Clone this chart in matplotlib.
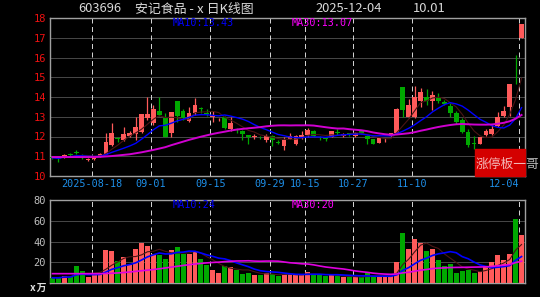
import numpy as np
import pandas as pd
import matplotlib
matplotlib.use("Agg")
import matplotlib.pyplot as plt
from matplotlib.patches import Rectangle

plt.rcParams["font.family"] = ["Noto Sans CJK SC", "DejaVu Sans"]

# trading days shown (national day holiday 10-01..10-08 closed)
holiday = pd.date_range("2025-10-01", "2025-10-08")
dates = [d for d in pd.bdate_range("2025-08-07", "2025-12-04") if d not in holiday]
tick_dates = ["2025-08-18", "2025-09-01", "2025-09-15", "2025-09-29",
              "2025-10-15", "2025-10-27", "2025-11-10", "2025-12-04"]

opens = [10.95, 10.90, 10.95, 11.10, 11.20, 11.05, 10.80, 10.85, 10.98, 11.12,
         11.55, 11.90, 11.80, 12.05, 12.15, 12.22, 12.95, 12.70, 13.28, 12.95,
         12.20, 13.80, 13.30, 12.80, 13.17, 13.42, 13.17, 13.00, 12.87, 13.00,
         12.38, 12.35, 12.30, 12.08, 11.98, 11.97, 11.80, 12.05, 11.70, 11.54,
         11.88, 11.63, 12.00, 12.08, 12.28, 11.93, 11.90, 12.00, 12.22, 12.05,
         12.15, 12.05, 12.30, 12.00, 11.85, 11.68, 11.85, 12.05, 12.20, 14.51,
         13.00, 12.97, 13.81, 14.00, 13.81, 13.93, 13.76, 13.52, 13.19, 12.85,
         12.21, 11.65, 11.63, 12.08, 12.13, 12.55, 13.02, 13.47, 16.12, 17.00]
highs = [11.00, 10.95, 11.10, 11.15, 11.30, 11.10, 10.92, 10.95, 11.15, 12.20,
         12.67, 12.00, 12.47, 12.30, 12.97, 13.15, 14.00, 13.60, 14.00, 13.20,
         13.25, 13.82, 13.40, 13.50, 13.95, 13.50, 13.40, 13.30, 12.95, 13.05,
         12.97, 12.45, 12.33, 12.10, 12.12, 12.05, 12.15, 12.10, 11.80, 12.00,
         12.18, 12.10, 12.30, 12.45, 12.35, 12.05, 11.95, 12.30, 12.40, 12.20,
         12.20, 12.25, 12.35, 12.10, 11.88, 11.95, 11.90, 12.20, 13.42, 14.51,
         13.90, 14.55, 14.48, 14.40, 14.30, 14.20, 13.85, 13.70, 13.30, 12.95,
         12.40, 12.05, 12.00, 12.40, 12.60, 13.22, 13.56, 14.65, 16.12, 17.72]
lows = [10.85, 10.72, 10.93, 11.00, 11.10, 10.85, 10.78, 10.82, 10.95, 11.10,
        11.50, 11.72, 11.75, 12.00, 11.80, 12.20, 12.85, 12.60, 13.05, 11.98,
        12.00, 12.75, 12.85, 12.75, 13.10, 13.20, 13.05, 12.75, 12.80, 12.38,
        12.30, 12.20, 11.83, 11.63, 11.85, 11.88, 11.72, 11.50, 11.60, 11.33,
        11.85, 11.55, 11.85, 12.00, 11.95, 11.80, 11.75, 11.95, 12.10, 12.00,
        12.05, 12.00, 12.15, 11.63, 11.60, 11.65, 11.70, 12.00, 12.20, 12.97,
        12.95, 12.94, 13.47, 13.60, 13.36, 13.70, 13.60, 12.97, 12.63, 12.20,
        11.46, 11.38, 11.60, 12.05, 12.10, 12.50, 12.98, 13.05, 14.65, 17.00]
closes = [10.92, 10.87, 11.07, 11.07, 11.18, 11.02, 10.85, 10.92, 11.12, 11.72,
          12.18, 11.88, 12.13, 12.20, 12.50, 13.14, 13.15, 13.40, 13.10, 12.00,
          13.22, 13.05, 12.95, 13.20, 13.60, 13.38, 13.12, 13.05, 12.90, 12.42,
          12.67, 12.32, 12.13, 12.00, 12.00, 11.95, 12.05, 11.80, 11.68, 11.80,
          12.00, 12.05, 12.10, 12.33, 12.05, 11.90, 11.88, 12.27, 12.20, 12.12,
          12.13, 12.20, 12.18, 11.85, 11.63, 11.90, 11.88, 12.18, 13.39, 13.36,
          13.60, 13.98, 14.26, 13.81, 14.10, 13.81, 13.64, 13.19, 12.75, 12.25,
          11.58, 11.63, 11.96, 12.30, 12.38, 12.97, 13.30, 14.65, 16.11, 17.72]
# volume in 万手
volumes = [5.0, 5.0, 7.0, 6.0, 16.5, 11.5, 5.6, 7.8, 9.7, 32.0,
           31.0, 21.0, 25.0, 17.5, 33.0, 39.0, 36.0, 27.5, 27.0, 23.0,
           32.0, 35.0, 27.5, 27.5, 31.0, 23.0, 17.5, 13.0, 10.0, 16.0,
           15.0, 13.0, 9.0, 10.0, 7.4, 7.4, 10.0, 8.6, 6.4, 9.0,
           8.3, 7.7, 7.7, 11.0, 8.3, 7.4, 6.4, 7.7, 6.4, 5.8,
           5.4, 5.4, 5.4, 10.0, 6.4, 6.7, 6.7, 6.7, 20.5, 48.5,
           32.5, 42.0, 39.0, 30.5, 32.5, 22.4, 16.0, 18.3, 10.1, 11.1,
           12.1, 10.1, 11.2, 16.0, 19.8, 27.0, 22.4, 27.8, 61.7, 46.7]

# MA30 for the first 29 days (window starts before the view)
ma30_close_head = [10.96, 10.96, 10.96, 10.96, 10.96, 10.96, 10.96, 10.96, 10.97, 10.99,
                   11.01, 11.04, 11.07, 11.10, 11.15, 11.20, 11.26, 11.32, 11.39, 11.46,
                   11.56, 11.65, 11.74, 11.83, 11.91, 11.99, 12.06, 12.13, 12.19]
ma30_vol_head = [9.0, 9.0, 9.0, 9.0, 9.0, 9.0, 9.0, 9.0, 9.0, 9.2,
                 9.4, 9.7, 10.1, 10.6, 11.2, 11.8, 12.4, 13.0, 13.7, 14.5,
                 15.3, 16.1, 16.9, 17.6, 18.3, 18.9, 19.4, 19.8, 20.1]

RED = "#ff5a5a"
GREEN = "#00a800"
BG = "black"
FRAME = "#a0a0a0"
MONO = "DejaVu Sans Mono"


def moving_avgs(values, head):
    s = pd.Series(values, dtype=float)
    ma5 = s.rolling(5, min_periods=1).mean()
    ma10 = s.rolling(10, min_periods=1).mean()
    ma30 = s.rolling(30).mean()
    ma30.iloc[:len(head)] = head
    return ma5, ma10, ma30


def style_axes(ax):
    ax.set_facecolor(BG)
    for sp in ax.spines.values():
        sp.set_color(FRAME)
        sp.set_linewidth(1.0)
    ax.tick_params(axis="both", length=0)
    ax.set_xticks([])


n = len(closes)
xs = np.arange(n) + 0.42
o = np.array(opens)
c = np.array(closes)
up = c >= o
colors = np.where(up, RED, GREEN)
tick_idx = [dates.index(pd.Timestamp(d)) for d in tick_dates]

c_ma5, c_ma10, c_ma30 = moving_avgs(closes, ma30_close_head)
v_ma5, v_ma10, v_ma30 = moving_avgs(volumes, ma30_vol_head)

fig = plt.figure(figsize=(5.4, 2.97), dpi=100, facecolor=BG)
ax_p = fig.add_axes([50 / 540, 1 - 176 / 297, 475 / 540, 158 / 297])
ax_v = fig.add_axes([50 / 540, 1 - 283 / 297, 475 / 540, 83 / 297])

# price panel
style_axes(ax_p)
ax_p.set_xlim(0, n)
ax_p.set_ylim(10, 18)
ax_p.set_yticks(range(10, 19))
ax_p.set_yticklabels([str(v) for v in range(10, 19)], color="#ee1111",
                     fontsize=7.5, family=MONO)
ax_p.tick_params(axis="y", pad=3)
for y in range(11, 18):
    ax_p.axhline(y, color="#8a8a8a", lw=0.72, dashes=(1, 1), zorder=1)
for ti in tick_idx:
    ax_p.axvline(ti, color="#d0d0d0", lw=0.72, dashes=(5, 3.5), zorder=1)

ax_p.vlines(xs, lows, highs, colors=colors, lw=0.9, zorder=3)
body = np.maximum(np.abs(c - o), 0.025)
ax_p.bar(xs, body, bottom=np.minimum(o, c), width=0.8, color=colors, zorder=3)
ax_p.plot(xs, c_ma5, color="#4a1515", lw=0.8, zorder=4)
ax_p.plot(xs, c_ma10, color="#0000ff", lw=1.0, zorder=4)
ax_p.plot(xs, c_ma30, color="#d000d0", lw=1.4, zorder=4)

for ti, d in zip(tick_idx, tick_dates):
    label = d if ti == tick_idx[0] else d[5:]
    ha = "right" if ti == tick_idx[-1] else "center"
    ax_p.text(ti, -0.052, label, transform=ax_p.get_xaxis_transform(),
              ha=ha, va="center", color="#1e8fe8", fontsize=7.3, family=MONO)

# watermark box
ax_p.add_patch(Rectangle((0.895, 0.0), 0.105, 0.171, transform=ax_p.transAxes,
                         color="#d40000", zorder=6, clip_on=False))
fig.text(476 / 540, 1 - 164 / 297, "涨停板一哥", color="white", alpha=0.72,
         fontsize=9.2, ha="left", va="center", zorder=7)

# volume panel
style_axes(ax_v)
ax_v.set_xlim(0, n)
ax_v.set_ylim(0, 80)
ax_v.set_yticks([20, 40, 60, 80])
ax_v.set_yticklabels(["20", "40", "60", "80"], color="#c0c0c0",
                     fontsize=7.5, family=MONO)
ax_v.tick_params(axis="y", pad=3)
for y in [20, 40, 60]:
    ax_v.axhline(y, color="#8a8a8a", lw=0.72, dashes=(1, 1), zorder=1)
for ti in tick_idx:
    ax_v.axvline(ti, color="#d0d0d0", lw=0.72, dashes=(5, 3.5), zorder=1)
ax_v.bar(xs, volumes, width=0.84, color=colors, zorder=3)
ax_v.plot(xs, v_ma5, color="#4a1515", lw=0.8, zorder=4)
ax_v.plot(xs, v_ma10, color="#0000ff", lw=1.2, zorder=4)
ax_v.plot(xs, v_ma30, color="#e000e0", lw=1.2, zorder=4)
fig.text(28 / 540, 1 - 288 / 297, "ⅹ万", color="#e0e0e0", fontsize=7,
         ha="left", va="center", weight="bold")

# header texts
head_y = 1 - 9 / 297
fig.text(100 / 540, head_y, "603696", color="#d8d8d8", fontsize=9.3,
         ha="center", va="center")
fig.text(135 / 540, head_y, "安记食品 -ⅹ日K线图", color="#d8d8d8", fontsize=9.3,
         ha="left", va="center")
fig.text(349 / 540, head_y, "2025-12-04", color="#d8d8d8", fontsize=9.3,
         ha="center", va="center")
fig.text(429 / 540, head_y, "10.01", color="#d8d8d8", fontsize=9.3,
         ha="center", va="center")

fig.text(173 / 540, 1 - 23 / 297, "MA10:13.43", color="#0000ff", fontsize=7.3,
         family=MONO, ha="left", va="center")
fig.text(292 / 540, 1 - 23 / 297, "MA30:13.07", color="#ff00ff", fontsize=7.3,
         family=MONO, ha="left", va="center")
fig.text(173 / 540, 1 - 205 / 297, "MA10:24", color="#0000ff", fontsize=7.3,
         family=MONO, ha="left", va="center")
fig.text(292 / 540, 1 - 205 / 297, "MA30:20", color="#ff00ff", fontsize=7.3,
         family=MONO, ha="left", va="center")

plt.savefig("out.png", dpi=100, facecolor=BG)
plt.close(fig)
